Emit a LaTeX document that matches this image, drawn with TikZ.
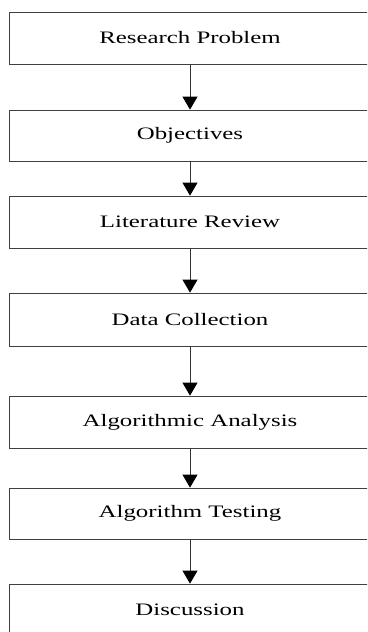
\documentclass[tikz,border=0pt]{standalone}
\usepackage{fontspec}
\setmainfont[FakeStretch=1.42]{Liberation Serif}
\usepackage{tikz}
\usetikzlibrary{positioning,arrows.meta}

\tikzset{
  stage/.style={rectangle, draw=black!75, line width=0.8pt, fill=white,
    minimum width=362pt, minimum height=52pt, inner sep=0pt,
    font=\fontsize{17.5}{19}\selectfont, text=black},
  flow/.style={draw=black!80, line width=0.8pt,
    -{Triangle[width=15pt,length=13pt,fill=black,color=black]}}
}

\begin{document}
\begin{tikzpicture}[x=1pt, y=-1pt]
    \clip (0,0) rectangle (367,632);
    \fill[white] (0,0) rectangle (367,632);

    \node[stage] (prob) at (190,38)    {Research Problem};
    \node[stage, minimum height=51pt] (obj)  at (190,135.5) {Objectives};
    \node[stage] (lit)  at (190,222)   {Literature Review};
    \node[stage, minimum height=53pt] (data) at (190,319.5) {Data Collection};
    \node[stage] (algo) at (190,422)   {Algorithmic Analysis};
    \node[stage, minimum height=51pt] (test) at (190,513.5) {Algorithm Testing};
    \node[stage] (disc) at (190,610)   {Discussion};

    \draw[flow] (prob) -- (obj);
    \draw[flow] (obj)  -- (lit);
    \draw[flow] (lit)  -- (data);
    \draw[flow] (data) -- (algo);
    \draw[flow] (algo) -- (test);
    \draw[flow] (test) -- (disc);
  \end{tikzpicture}
\end{document}
